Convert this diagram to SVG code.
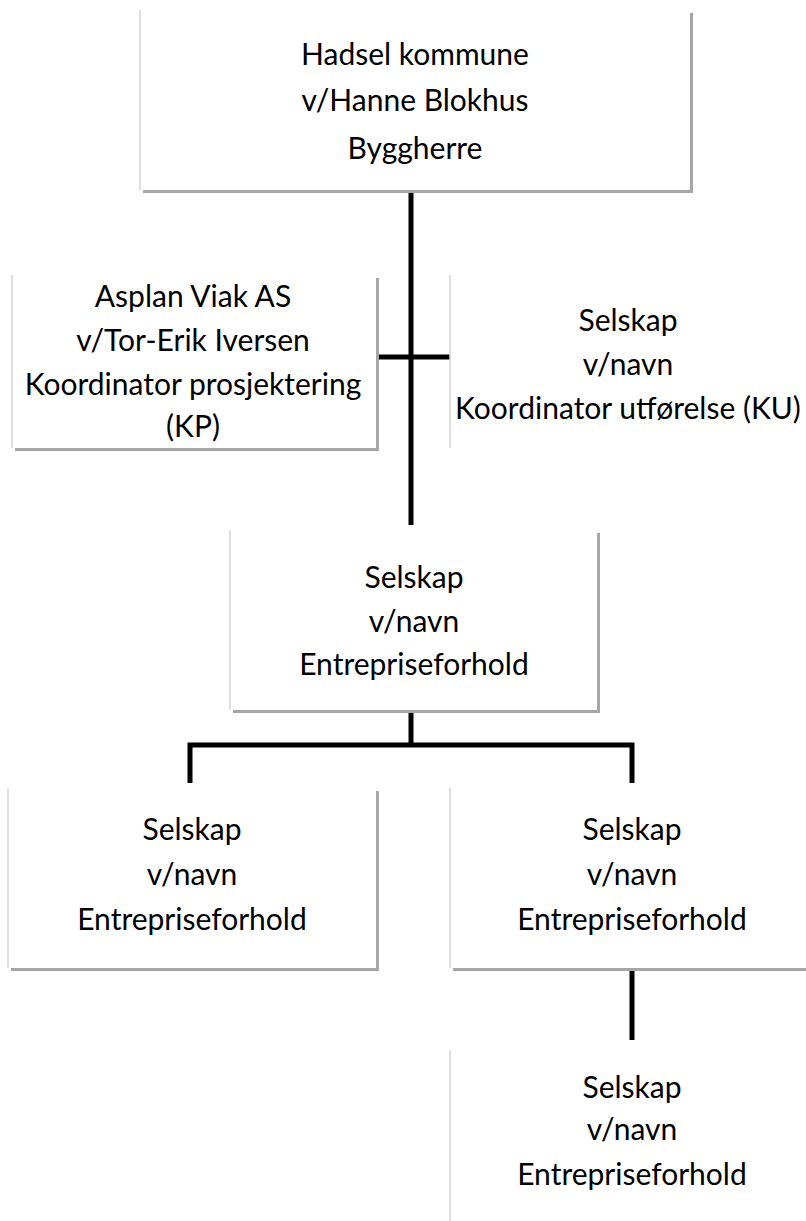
<svg xmlns="http://www.w3.org/2000/svg" width="806" height="1221" viewBox="0 0 806 1221">
<style>
.shadow{fill:#a6a6a6}
.box{fill:#ffffff}
.edge{stroke:#d4d4d4;stroke-width:1.5}
.t{font-family:Lato,"Liberation Sans",sans-serif;font-size:30px;fill:#000;text-anchor:middle}
.c{stroke:#000;stroke-width:5;fill:none}
</style>
<rect width="806" height="1221" fill="#fff"/>
<g id="connectors">
<path class="c" d="M411 190V525M376 357H450"/>
<path class="c" d="M411 710V745M190 745H632M190 742.5V783M632 742.5V783"/>
<path class="c" d="M632 968V1040"/>
</g>
<g id="n1">
<rect class="shadow" x="143" y="13" width="550" height="180"/>
<rect class="box" x="140" y="10" width="550" height="180"/>
<line class="edge" x1="140" y1="10" x2="140" y2="190"/>
<text class="t" x="415" y="65">Hadsel kommune</text>
<text class="t" x="415" y="111">v/Hanne Blokhus</text>
<text class="t" x="415" y="159">Byggherre</text>
</g>
<g id="n2">
<rect class="shadow" x="15" y="278" width="364" height="173"/>
<rect class="box" x="12" y="275" width="364" height="173"/>
<line class="edge" x1="12" y1="275" x2="12" y2="448"/>
<text class="t" x="193" y="307">Asplan Viak AS</text>
<text class="t" x="193" y="351">v/Tor-Erik Iversen</text>
<text class="t" x="193" y="395">Koordinator prosjektering</text>
<text class="t" x="193" y="437">(KP)</text>
</g>
<g id="n3">
<rect class="box" x="450" y="275" width="356" height="173"/>
<line class="edge" x1="450" y1="275" x2="450" y2="448"/>
<text class="t" x="628" y="331">Selskap</text>
<text class="t" x="628" y="375">v/navn</text>
<text class="t" x="628" y="419">Koordinator utførelse (KU)</text>
</g>
<g id="n4">
<rect class="shadow" x="233" y="533" width="367" height="180"/>
<rect class="box" x="230" y="530" width="367" height="180"/>
<line class="edge" x1="230" y1="530" x2="230" y2="710"/>
<text class="t" x="414" y="588">Selskap</text>
<text class="t" x="414" y="632">v/navn</text>
<text class="t" x="414" y="675">Entrepriseforhold</text>
</g>
<g id="n5">
<rect class="shadow" x="11" y="791" width="368" height="180"/>
<rect class="box" x="8" y="788" width="368" height="180"/>
<line class="edge" x1="8" y1="788" x2="8" y2="968"/>
<text class="t" x="192" y="840">Selskap</text>
<text class="t" x="192" y="885">v/navn</text>
<text class="t" x="192" y="930">Entrepriseforhold</text>
</g>
<g id="n6">
<rect class="shadow" x="453" y="791" width="356" height="180"/>
<rect class="box" x="450" y="788" width="356" height="180"/>
<line class="edge" x1="450" y1="788" x2="450" y2="968"/>
<text class="t" x="632" y="840">Selskap</text>
<text class="t" x="632" y="885">v/navn</text>
<text class="t" x="632" y="930">Entrepriseforhold</text>
</g>
<g id="n7">
<rect class="box" x="450" y="1050" width="356" height="171"/>
<line class="edge" x1="450" y1="1050" x2="450" y2="1221"/>
<text class="t" x="632" y="1098">Selskap</text>
<text class="t" x="632" y="1140">v/navn</text>
<text class="t" x="632" y="1185">Entrepriseforhold</text>
</g>
</svg>
